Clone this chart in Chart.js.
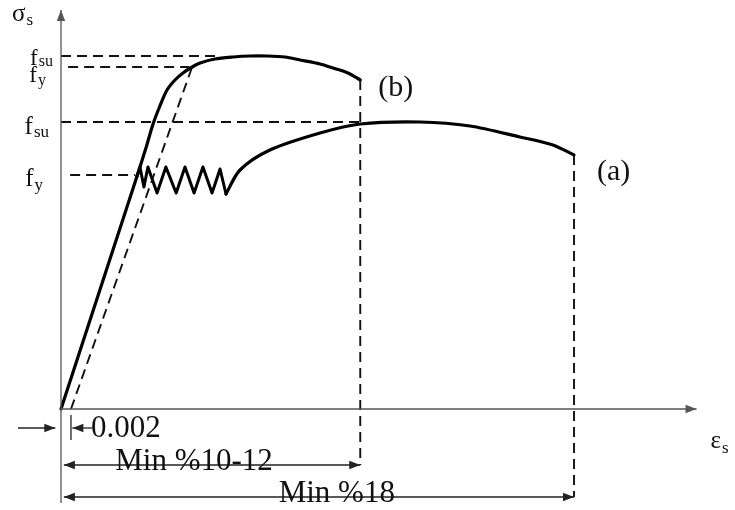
<!DOCTYPE html>
<html>
<head>
<meta charset="utf-8">
<script src="https://cdn.jsdelivr.net/npm/chart.js@4.4.0/dist/chart.umd.min.js"></script>
<style>
  html, body { margin: 0; padding: 0; background: #fff; }
  #wrap { width: 735px; height: 510px; position: relative; }
</style>
</head>
<body>
<div id="wrap"><canvas id="c"></canvas></div>
<script>
// Stress-strain diagram of reinforcing steel:
// (a) hot-rolled steel with yield plateau, (b) cold-worked steel (0.002 offset yield).
// Strain in %, stress in arbitrary units.

// ---------- Data ----------
var elasticStrain = [0, 2.67];
var elasticStress = [0, 58.25];

var plateauStrain = [2.67, 2.77, 2.91, 3.05, 3.37, 3.68, 4.04, 4.35, 4.67, 4.98, 5.30, 5.58, 5.79];
var plateauStress = [58.25, 60.5, 55.5, 60.5, 54, 60.5, 54, 60.5, 54, 60.5, 54, 60, 53.75];

var hardenAStrain = [5.79, 6.28, 7.33, 9.09, 10.5, 12.6, 14.35, 16.1, 17.26, 18];
var hardenAStress = [53.75, 59.75, 64.75, 69, 71.25, 71.75, 70.75, 68, 66, 63.5];

var curveBStrain = [2.67, 2.98, 3.23, 3.47, 3.72, 4.0, 4.28, 4.6, 4.88, 5.4, 6.04, 6.63, 7.23, 7.86, 8.39, 9.09, 9.54, 10.07, 10.5];
var curveBStress = [58.25, 65.25, 71.25, 75.75, 79.75, 82.25, 84, 85.5, 86.5, 87.5, 88, 88.25, 88.25, 88, 87.25, 86.25, 85.25, 84, 82.25];

var offsetStrain = [0.35, 4.6];
var offsetStress = [0, 85.5];

// characteristic levels
var fyA = 58.5, fsuA = 71.75, fyB = 85.5, fsuB = 88.25;
var ruptureStrainA = 18, ruptureStressA = 63.5;
var ruptureStrainB = 10.5, ruptureStressB = 82.25;
var offset002 = 0.35;

// dimension rows under the axis
var dimRowOffset = -4.75, dimRowB = -14, dimRowA = -22;

// axis extents
var axisStrainMax = 22.3, axisStressMax = 99.75, axisStressMin = -23.5;

// ---------- Helpers ----------
function pts(xs, ys) {
  return xs.map(function (x, i) { return { x: x, y: ys[i] }; });
}

var black = '#000';
var dashCol = '#111';
var axisCol = '#555';
var serif = "'Liberation Serif', 'Times New Roman', serif";

function solid(data, width, tension) {
  return { data: data, showLine: true, pointRadius: 0, borderColor: black, borderWidth: width,
           tension: tension || 0, borderCapStyle: 'round', borderJoinStyle: 'round', fill: false };
}
function dashed(data) {
  return { data: data, showLine: true, pointRadius: 0, borderColor: dashCol, borderWidth: 1.9,
           borderDash: [10, 6], tension: 0, fill: false };
}
function thin(data, color, arrows) {
  return { data: data, showLine: true, pointRadius: 0, borderColor: color, borderWidth: 1.3,
           tension: 0, fill: false, arrows: arrows };
}

var datasets = [
  // axes
  thin(pts([0, axisStrainMax], [0, 0]), axisCol, 'end'),
  thin(pts([0, 0], [axisStressMin, axisStressMax]), axisCol, 'end'),
  // level lines
  dashed(pts([0, 5.6], [fsuB, fsuB])),
  dashed(pts([0.25, 4.5], [fyB, fyB])),
  dashed(pts([0, ruptureStrainB], [fsuA, fsuA])),
  dashed(pts([0.32, 2.6], [fyA, fyA])),
  // rupture verticals
  dashed(pts([ruptureStrainB, ruptureStrainB], [ruptureStressB, dimRowB])),
  dashed(pts([ruptureStrainA, ruptureStrainA], [ruptureStressA, dimRowA])),
  // 0.002 offset line
  dashed(pts(offsetStrain, offsetStress)),
  // curves
  solid(pts(elasticStrain, elasticStress), 3.2),
  solid(pts(plateauStrain, plateauStress), 3),
  solid(pts(hardenAStrain, hardenAStress), 3.2, 0.3),
  solid(pts(curveBStrain, curveBStress), 3.2, 0.3),
  // dimension marks
  thin(pts([offset002, offset002], [-1.5, -7.75]), '#222'),
  thin(pts([1.1, offset002 + 0.05], [dimRowOffset, dimRowOffset]), '#222', 'end'),
  thin(pts([-1.51, -0.2], [dimRowOffset, dimRowOffset]), '#222', 'end'),
  thin(pts([0.1, ruptureStrainB], [dimRowB, dimRowB]), '#222', 'both'),
  thin(pts([0.1, ruptureStrainA], [dimRowA, dimRowA]), '#222', 'both')
];

// ---------- Plugins ----------
function head(ctx, tip, from, size) {
  var a = Math.atan2(tip.y - from.y, tip.x - from.x);
  ctx.beginPath();
  ctx.moveTo(tip.x, tip.y);
  ctx.lineTo(tip.x - size * Math.cos(a) + size * 0.38 * Math.sin(a), tip.y - size * Math.sin(a) - size * 0.38 * Math.cos(a));
  ctx.lineTo(tip.x - size * Math.cos(a) - size * 0.38 * Math.sin(a), tip.y - size * Math.sin(a) + size * 0.38 * Math.cos(a));
  ctx.closePath();
  ctx.fill();
}

var arrowPlugin = {
  id: 'arrows',
  afterDatasetsDraw: function (chart) {
    var ctx = chart.ctx;
    chart.data.datasets.forEach(function (ds, i) {
      if (!ds.arrows) return;
      var p = chart.getDatasetMeta(i).data;
      var first = p[0], last = p[p.length - 1];
      ctx.save();
      ctx.fillStyle = ds.borderColor;
      if (ds.arrows === 'end' || ds.arrows === 'both') head(ctx, last, first, 11);
      if (ds.arrows === 'both') head(ctx, first, last, 11);
      ctx.restore();
    });
  }
};

function subText(ctx, main, sub, x, y, size, align, drop) {
  var subSize = Math.round(size * 0.68);
  ctx.font = size + 'px ' + serif;
  var w1 = ctx.measureText(main).width;
  ctx.font = subSize + 'px ' + serif;
  var w2 = ctx.measureText(sub).width;
  var left = align === 'right' ? x - w1 - w2 - 1 : x;
  ctx.font = size + 'px ' + serif;
  ctx.fillText(main, left, y);
  ctx.font = subSize + 'px ' + serif;
  ctx.fillText(sub, left + w1 + 1, y + (drop == null ? size * 0.18 : drop));
}

var labelPlugin = {
  id: 'labels',
  afterDraw: function (chart) {
    var ctx = chart.ctx, xs = chart.scales.x, ys = chart.scales.y;
    var X = function (v) { return xs.getPixelForValue(v); };
    var Y = function (v) { return ys.getPixelForValue(v); };
    var ax = X(0);
    ctx.save();
    ctx.fillStyle = '#111';
    ctx.textBaseline = 'alphabetic';
    ctx.textAlign = 'left';

    subText(ctx, 'f', 'su', ax - 8, Y(fsuB) + 9, 23, 'right', 1);
    subText(ctx, 'f', 'y', ax - 15, Y(fyB) + 15, 23, 'right', 3);
    subText(ctx, 'f', 'su', ax - 12, Y(fsuA) + 12, 25, 'right', 3);
    subText(ctx, 'f', 'y', ax - 18, Y(fyA) + 11, 25, 'right', 4);

    subText(ctx, '\u03c3', 's', 12, Y(axisStressMax) + 11, 25, 'left', 4);
    subText(ctx, '\u03b5', 's', X(axisStrainMax) + 14, Y(dimRowB) - 17, 25, 'left', 5);

    ctx.font = '30px ' + serif;
    ctx.textBaseline = 'middle';
    ctx.fillText('(b)', X(ruptureStrainB) + 18, Y(ruptureStressB) + 8);
    ctx.fillText('(a)', X(ruptureStrainA) + 23, Y(ruptureStressA) + 17);

    ctx.font = '31px ' + serif;
    ctx.textBaseline = 'alphabetic';
    ctx.fillText('0.002', X(offset002) + 20, Y(dimRowOffset) + 9);
    ctx.textAlign = 'center';
    ctx.fillText('Min %10-12', X(ruptureStrainB / 2.25), Y(dimRowB) + 5);
    ctx.fillText('Min %18', X(ruptureStrainA / 1.86), Y(dimRowA) + 5);
    ctx.restore();
  }
};

new Chart(document.getElementById('c'), {
  type: 'scatter',
  data: { datasets: datasets },
  options: {
    responsive: true,
    maintainAspectRatio: false,
    animation: false,
    layout: { padding: 0 },
    scales: {
      x: { type: 'linear', display: false, min: -61 / 28.5, max: (735 - 61) / 28.5 },
      y: { type: 'linear', display: false, min: -(510 - 409) / 4, max: 409 / 4 }
    },
    plugins: { legend: { display: false }, tooltip: { enabled: false } }
  },
  plugins: [arrowPlugin, labelPlugin]
});
</script>
</body>
</html>
